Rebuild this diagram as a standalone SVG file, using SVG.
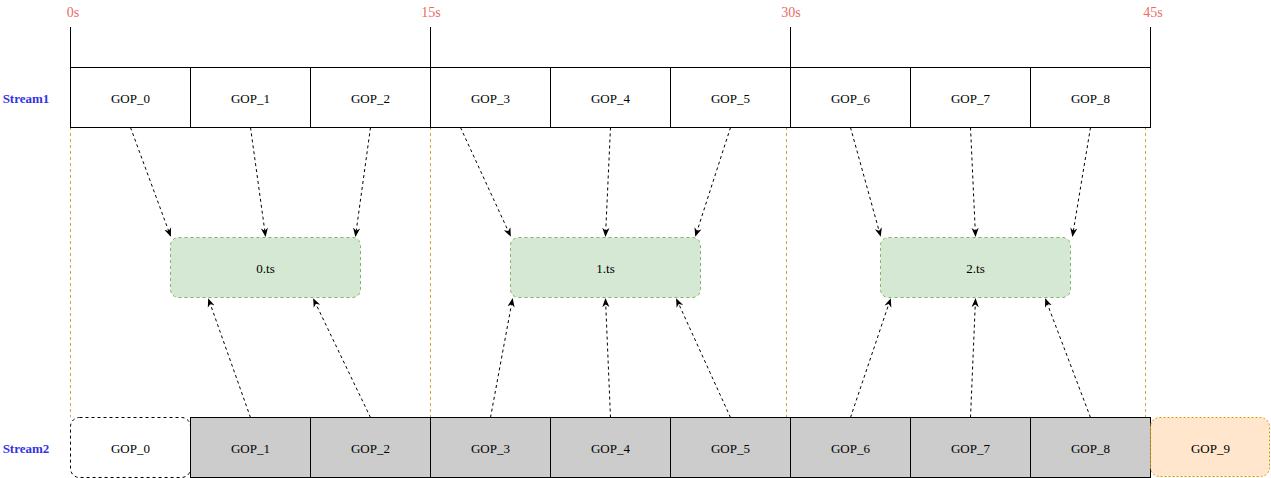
<svg xmlns="http://www.w3.org/2000/svg" width="1271" height="478" viewBox="0 0 1271 478">
<style>
text{font-family:"Liberation Serif","Times New Roman",serif;font-size:13px;fill:#000;text-anchor:middle;dominant-baseline:central}
.time{fill:#EA6B66;font-size:14px}
.stream{fill:#3333E6;font-weight:bold}
.cell{fill:#fff;stroke:#000;stroke-width:1}
.gray{fill:#CCCCCC;stroke:#000;stroke-width:1}
.ts{fill:#D5E8D4;stroke:#82B366;stroke-width:1;stroke-dasharray:3 3}
.tick{stroke:#000;stroke-width:1}
.guide{stroke:#D6A33A;stroke-width:1;stroke-dasharray:3 3}
.conn path{fill:none;stroke:#000;stroke-width:1;stroke-dasharray:3 3;marker-end:url(#arr)}
</style>
<defs>
<marker id="arr" viewBox="0 0 10 10" refX="9" refY="5" markerWidth="9" markerHeight="9" markerUnits="userSpaceOnUse" orient="auto">
<path d="M0,1 L10,5 L0,9 L3,5 Z" fill="#000" stroke="none"/>
</marker>
</defs>
<rect width="1271" height="478" fill="#fff"/>
<g id="timeline">
<text class="time" x="73" y="12">0s</text>
<text class="time" x="431" y="12">15s</text>
<text class="time" x="791" y="12">30s</text>
<text class="time" x="1153" y="12">45s</text>
<line class="tick" x1="70.5" y1="27" x2="70.5" y2="67"/>
<line class="tick" x1="430.5" y1="27" x2="430.5" y2="67"/>
<line class="tick" x1="790.5" y1="27" x2="790.5" y2="67"/>
<line class="tick" x1="1150.5" y1="27" x2="1150.5" y2="67"/>
<line class="guide" x1="70.5" y1="127" x2="70.5" y2="417"/>
<line class="guide" x1="430.5" y1="127" x2="430.5" y2="417"/>
<line class="guide" x1="786.5" y1="127" x2="786.5" y2="417"/>
<line class="guide" x1="1145.5" y1="127" x2="1145.5" y2="417"/>
</g>
<g id="stream1-label"><text class="stream" x="26" y="98">Stream1</text></g>
<g id="stream2-label"><text class="stream" x="26" y="448">Stream2</text></g>
<g id="s1-gop0"><rect class="cell" x="70.5" y="67.5" width="120" height="60"/><text x="130.5" y="98">GOP_0</text></g>
<g id="s1-gop1"><rect class="cell" x="190.5" y="67.5" width="120" height="60"/><text x="250.5" y="98">GOP_1</text></g>
<g id="s1-gop2"><rect class="cell" x="310.5" y="67.5" width="120" height="60"/><text x="370.5" y="98">GOP_2</text></g>
<g id="s1-gop3"><rect class="cell" x="430.5" y="67.5" width="120" height="60"/><text x="490.5" y="98">GOP_3</text></g>
<g id="s1-gop4"><rect class="cell" x="550.5" y="67.5" width="120" height="60"/><text x="610.5" y="98">GOP_4</text></g>
<g id="s1-gop5"><rect class="cell" x="670.5" y="67.5" width="120" height="60"/><text x="730.5" y="98">GOP_5</text></g>
<g id="s1-gop6"><rect class="cell" x="790.5" y="67.5" width="120" height="60"/><text x="850.5" y="98">GOP_6</text></g>
<g id="s1-gop7"><rect class="cell" x="910.5" y="67.5" width="120" height="60"/><text x="970.5" y="98">GOP_7</text></g>
<g id="s1-gop8"><rect class="cell" x="1030.5" y="67.5" width="120" height="60"/><text x="1090.5" y="98">GOP_8</text></g>
<g id="ts0"><rect class="ts" x="170.5" y="237.5" width="190" height="60" rx="8"/><text x="265.5" y="268">0.ts</text></g>
<g id="ts1"><rect class="ts" x="510.5" y="237.5" width="190" height="60" rx="8"/><text x="605.5" y="268">1.ts</text></g>
<g id="ts2"><rect class="ts" x="880.5" y="237.5" width="190" height="60" rx="8"/><text x="975.5" y="268">2.ts</text></g>
<g id="s2-gop0"><rect x="70.5" y="417.5" width="120" height="60" rx="9" fill="#fff" stroke="#000" stroke-dasharray="3 3"/><text x="130.5" y="448">GOP_0</text></g>
<g id="s2-gop1"><rect class="gray" x="190.5" y="417.5" width="120" height="60"/><text x="250.5" y="448">GOP_1</text></g>
<g id="s2-gop2"><rect class="gray" x="310.5" y="417.5" width="120" height="60"/><text x="370.5" y="448">GOP_2</text></g>
<g id="s2-gop3"><rect class="gray" x="430.5" y="417.5" width="120" height="60"/><text x="490.5" y="448">GOP_3</text></g>
<g id="s2-gop4"><rect class="gray" x="550.5" y="417.5" width="120" height="60"/><text x="610.5" y="448">GOP_4</text></g>
<g id="s2-gop5"><rect class="gray" x="670.5" y="417.5" width="120" height="60"/><text x="730.5" y="448">GOP_5</text></g>
<g id="s2-gop6"><rect class="gray" x="790.5" y="417.5" width="120" height="60"/><text x="850.5" y="448">GOP_6</text></g>
<g id="s2-gop7"><rect class="gray" x="910.5" y="417.5" width="120" height="60"/><text x="970.5" y="448">GOP_7</text></g>
<g id="s2-gop8"><rect class="gray" x="1030.5" y="417.5" width="120" height="60"/><text x="1090.5" y="448">GOP_8</text></g>
<g id="s2-gop9"><rect x="1150.5" y="417.5" width="119" height="59" rx="9" fill="#FFE6CC" stroke="#D79B00" stroke-dasharray="2 2"/><text x="1210.5" y="448">GOP_9</text></g>
<g id="connectors" class="conn">
<path d="M130.5,127.5 L170.5,236"/>
<path d="M250.5,127.5 L265.5,236"/>
<path d="M370.5,127.5 L355.5,236"/>
<path d="M460.5,127.5 L510.5,236"/>
<path d="M610.5,127.5 L605.5,236"/>
<path d="M730.5,127.5 L695.5,236"/>
<path d="M850.5,127.5 L880.5,236"/>
<path d="M970.5,127.5 L975.5,236"/>
<path d="M1090.5,127.5 L1072.5,236"/>
<path d="M250.5,417.5 L208.5,299"/>
<path d="M370.5,417.5 L313.5,299"/>
<path d="M490.5,417.5 L512.5,299"/>
<path d="M610.5,417.5 L605.5,299"/>
<path d="M730.5,417.5 L676.5,299"/>
<path d="M850.5,417.5 L890.5,299"/>
<path d="M970.5,417.5 L975.5,299"/>
<path d="M1090.5,417.5 L1045.5,299"/>
</g>
</svg>
